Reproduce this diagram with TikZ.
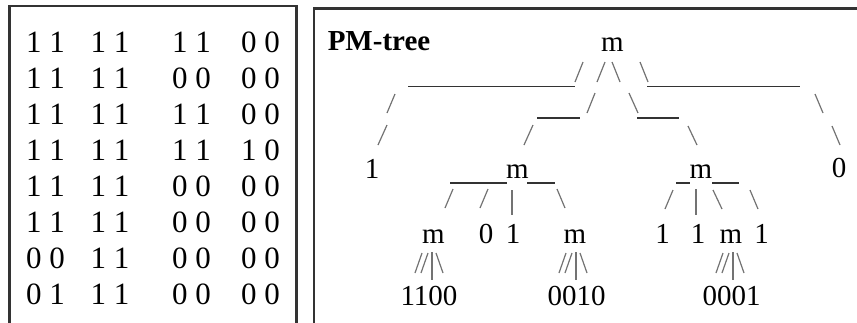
\documentclass[tikz,border=0pt]{standalone}
\usepackage{fontspec}
\setmainfont{Liberation Serif}
\begin{document}
\begin{tikzpicture}[x=1pt,y=-1pt,
  mat/.style={font=\fontsize{31}{36}\selectfont, inner sep=0pt, anchor=base west},
  lbl/.style={font=\fontsize{29}{34}\selectfont, inner sep=0pt, anchor=base},
  ttl/.style={font=\bfseries\fontsize{29}{34}\selectfont, inner sep=0pt, anchor=base},
  frame/.style={line width=2.4pt, draw=black!80},
  sl/.style={line width=1.2pt, draw=black!55},
  us/.style={line width=1.8pt, draw=black!80}]
\useasboundingbox (0,0) rectangle (857,322);
\clip (0,0) rectangle (857,322);

% frames
\draw[frame] (9.5,330) -- (9.5,6) -- (296.5,6) -- (296.5,330);
\draw[frame] (314,330) -- (314,8.5) -- (865,8.5);

% bit matrix
\newcommand\mrow[6]{%
  \node[mat] (#1a) at (26,#2) {#3};
  \node[mat] (#1b) at (90.5,#2) {#4};
  \node[mat] (#1c) at (172,#2) {#5};
  \node[mat] (#1d) at (241,#2) {#6};}
\mrow{ra}{52}{1 1}{1 1}{1 1}{0 0}
\mrow{rb}{88}{1 1}{1 1}{0 0}{0 0}
\mrow{rc}{124}{1 1}{1 1}{1 1}{0 0}
\mrow{rd}{160}{1 1}{1 1}{1 1}{1 0}
\mrow{re}{196}{1 1}{1 1}{0 0}{0 0}
\mrow{rf}{232}{1 1}{1 1}{0 0}{0 0}
\mrow{rg}{268}{0 0}{1 1}{0 0}{0 0}
\mrow{rh}{304}{0 1}{1 1}{0 0}{0 0}

% PM-tree labels
\node[ttl] (title) at (379,50) {PM-tree};
\node[lbl] (root) at (612.5,51) {m};
\node[lbl] (l1) at (372,178) {1};
\node[lbl] (mL) at (517.5,178) {m};
\node[lbl] (mR) at (701,178) {m};
\node[lbl] (l0) at (839,177) {0};
\node[lbl] (a1) at (433.5,243) {m};
\node[lbl] (a2) at (486,243) {0};
\node[lbl] (a3) at (513,243) {1};
\node[lbl] (a4) at (575,243) {m};
\node[lbl] (b1) at (662.5,243) {1};
\node[lbl] (b2) at (698,243) {1};
\node[lbl] (b3) at (731,243) {m};
\node[lbl] (b4) at (761.5,243) {1};
\node[lbl] (c1) at (429,305) {1100};
\node[lbl] (c2) at (576.5,305) {0010};
\node[lbl] (c3) at (731.5,305) {0001};

% row B
\draw[us] (408,86.5) -- (575,86.5);
\draw[sl] (583,62) -- (575,82);
\draw[sl] (605,62) -- (597,82);
\draw[sl] (612,62) -- (620,82);
\draw[sl] (640,62) -- (648,82);
\draw[us] (647,86.5) -- (800,86.5);
% row C
\draw[sl] (395,94) -- (387,113);
\draw[us] (537,118) -- (580,118);
\draw[sl] (595,93) -- (587,113);
\draw[sl] (629,93) -- (638,113);
\draw[us] (637,118) -- (679,118);
\draw[sl] (815,94) -- (823,113);
% row D
\draw[sl] (387,125) -- (378,145);
\draw[sl] (533,125) -- (524,145);
\draw[sl] (688,126) -- (697,145);
\draw[sl] (832,126) -- (840,145);
% row E underscores
\draw[us] (450,183) -- (507,183);
\draw[us] (527,183) -- (555,183);
\draw[us] (676,183) -- (690,183);
\draw[us] (712,183) -- (739,183);
% row F
\draw[sl] (453,189) -- (445,208);
\draw[sl] (488,189) -- (480,208);
\draw[sl] (512,190) -- (512,215);
\draw[sl] (557,189) -- (565,208);
\draw[sl] (673,190) -- (665,209);
\draw[sl] (696,189) -- (696,215);
\draw[sl] (713,190) -- (722,209);
\draw[sl] (750,190) -- (758,209);
% row H
\foreach \p in {432,576,733}{
  \draw[sl] (\p-10,253) -- (\p-17,273);
  \draw[sl] (\p-4,253) -- (\p-11,273);
  \draw[sl] (\p,252) -- (\p,280);
  \draw[sl] (\p+4,253) -- (\p+11,273);
}
\end{tikzpicture}
\end{document}
